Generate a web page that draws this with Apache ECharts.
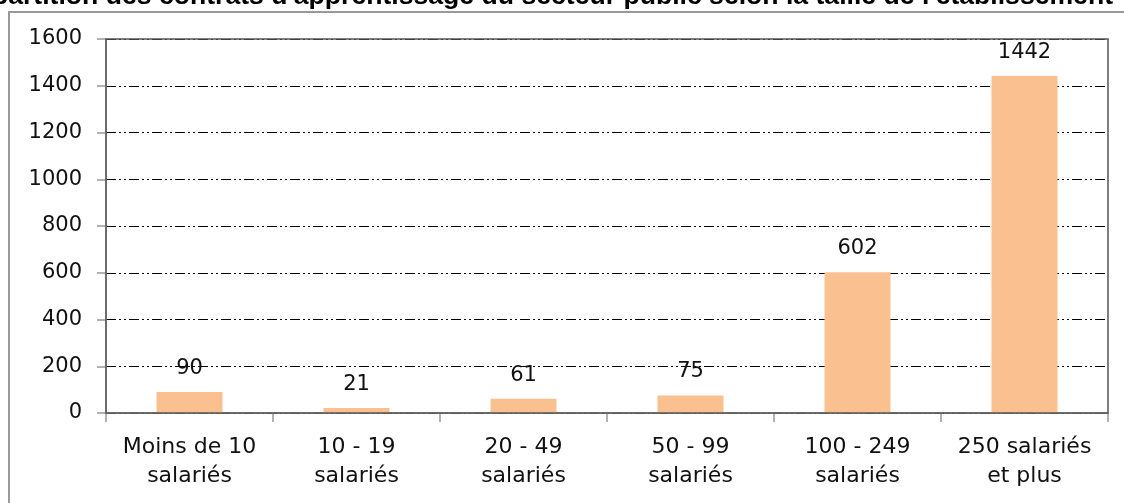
<!DOCTYPE html>
<html><head><meta charset="utf-8">
<script src="https://cdn.jsdelivr.net/npm/echarts@6/dist/echarts.min.js"></script>
<style>html,body{margin:0;padding:0;background:#fff}#c{width:1124px;height:503px}</style>
</head><body><div id="c"></div>
<script>
const titleText = "Répartition des contrats d'apprentissage du secteur public selon la taille de l'établissement";
const categories = ["Moins de 10\nsalariés", "10 - 19\nsalariés", "20 - 49\nsalariés", "50 - 99\nsalariés", "100 - 249\nsalariés", "250 salariés\net plus"];
const values = [90, 21, 61, 75, 602, 1442];
const yTicks = [0, 200, 400, 600, 800, 1000, 1200, 1400, 1600];

const labelFont = "DejaVu Sans";
const chart = echarts.init(document.getElementById('c'), null, {renderer: 'canvas'});
chart.setOption({
  animation: false,
  backgroundColor: '#fff',
  graphic: [
    {type: 'rect', shape: {x: 9, y: 12, width: 1300, height: 700}, style: {fill: 'none', stroke: '#999', lineWidth: 2}, z: 0},
    {type: 'rect', shape: {x: 106, y: 39, width: 1002, height: 374}, style: {fill: 'none', stroke: '#555', lineWidth: 1.5}, z: 100},
    {type: 'text', x: 1113, y: -16.5, style: {text: titleText, font: 'bold 26.6px "Liberation Sans", Arial, sans-serif', fill: '#000', align: 'right', verticalAlign: 'top'}, z: 100}
  ],
  grid: {left: 106, right: 16, top: 39, bottom: 90},
  xAxis: {
    type: 'category', data: categories,
    axisLine: {lineStyle: {color: '#999', width: 1.5}},
    axisTick: {show: true, length: 9, lineStyle: {color: '#999', width: 1.5}},
    axisLabel: {color: '#111', fontFamily: labelFont, fontSize: 22, lineHeight: 29, margin: 20, interval: 0}
  },
  yAxis: {
    type: 'value', min: 0, max: 1600, interval: 200,
    axisLine: {show: true, lineStyle: {color: '#999', width: 1.5}},
    axisTick: {show: true, length: 9, lineStyle: {color: '#999', width: 1.5}},
    axisLabel: {color: '#111', fontFamily: labelFont, fontSize: 21, margin: 24,
      formatter: v => yTicks.includes(v) ? String(v) : ''},
    splitLine: {show: true, lineStyle: {color: '#000', width: 1, type: [10, 3, 2, 3, 2, 3]}}
  },
  series: [{
    type: 'bar', data: values, barWidth: 66,
    itemStyle: {color: '#FAC090'},
    label: {show: true, position: 'top', distance: 13, color: '#111', fontFamily: labelFont, fontSize: 21}
  }]
});
</script></body></html>
